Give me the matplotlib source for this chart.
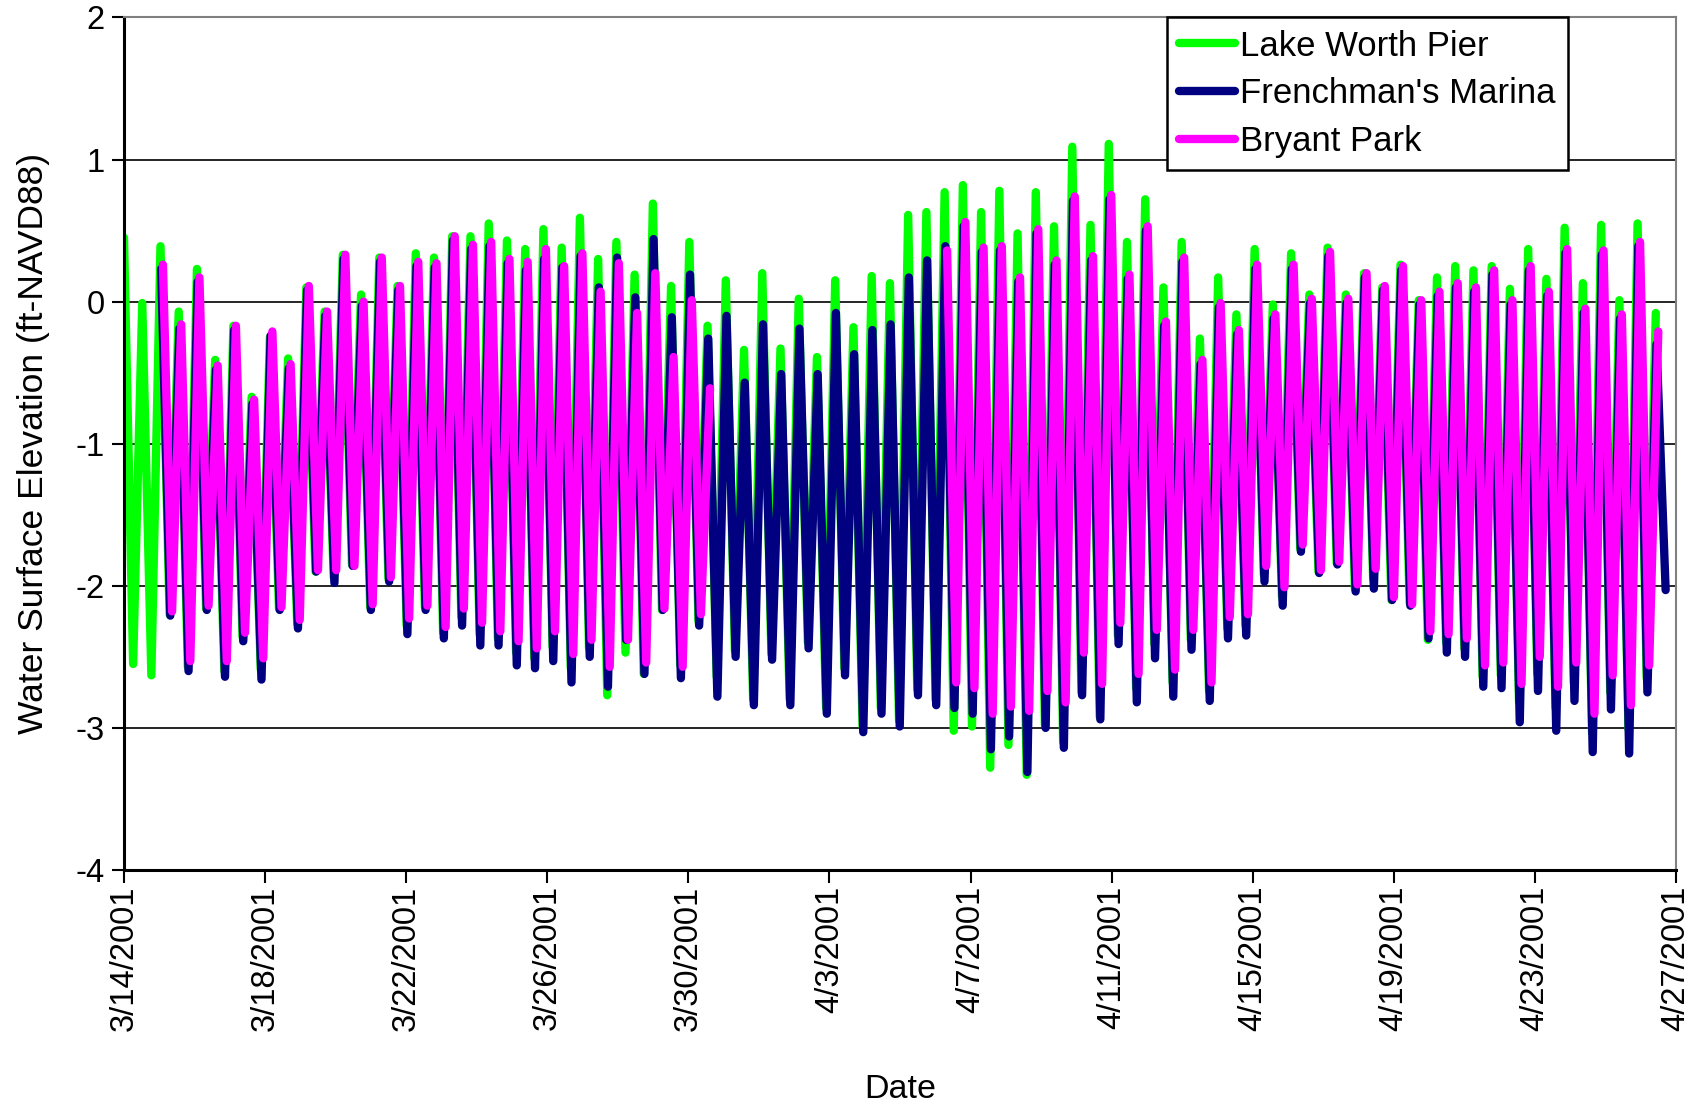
import datetime as dt

import matplotlib
matplotlib.use("Agg")
import matplotlib.pyplot as plt
import matplotlib.dates as mdates
import numpy as np

plt.rcParams['font.family'] = ['Liberation Sans', 'DejaVu Sans']
plt.rcParams['axes.unicode_minus'] = False

START = dt.datetime(2001, 3, 14)
TIDE_PERIOD = 0.517   # days between successive high waters

# high / low water levels (ft NAVD88), one value per tidal cycle
# Lake Worth Pier: highs from cycle 0, lows after cycles 0..83
LWP_HIGH = [0.45, -0.01, 0.39, -0.07, 0.23, -0.41, -0.17, -0.67, -0.25, -0.40, 0.10,
            -0.07, 0.33, 0.05, 0.31, 0.11, 0.34, 0.31, 0.46, 0.46, 0.55, 0.43,
            0.37, 0.51, 0.38, 0.59, 0.30, 0.42, 0.19, 0.69, 0.11, 0.42, -0.17,
            0.15, -0.34, 0.20, -0.33, 0.02, -0.39, 0.15, -0.18, 0.18, 0.13, 0.61,
            0.63, 0.77, 0.82, 0.63, 0.78, 0.48, 0.77, 0.53, 1.09, 0.54, 1.11,
            0.42, 0.72, 0.10, 0.42, -0.26, 0.17, -0.09, 0.37, -0.02, 0.34, 0.05,
            0.38, 0.05, 0.20, 0.10, 0.26, 0.01, 0.17, 0.25, 0.22, 0.25, 0.09,
            0.37, 0.16, 0.52, 0.13, 0.54, 0.01, 0.55, -0.08]
LWP_LOW = [-2.55, -2.63, -2.20, -2.57, -2.16, -2.60, -2.36, -2.59, -2.16, -2.27, -1.90,
           -1.94, -1.85, -2.15, -1.95, -2.28, -2.15, -2.33, -2.22, -2.34, -2.37, -2.47,
           -2.51, -2.43, -2.58, -2.44, -2.77, -2.47, -2.62, -2.17, -2.56, -2.25, -2.64,
           -2.46, -2.80, -2.48, -2.80, -2.40, -2.86, -2.58, -2.99, -2.86, -2.95, -2.73,
           -2.80, -3.02, -2.99, -3.28, -3.12, -3.33, -2.98, -3.10, -2.75, -2.92, -2.35,
           -2.72, -2.41, -2.68, -2.38, -2.74, -2.30, -2.28, -1.92, -2.08, -1.74, -1.90,
           -1.84, -2.02, -1.95, -2.10, -2.12, -2.38, -2.40, -2.44, -2.64, -2.63, -2.82,
           -2.62, -2.86, -2.68, -3.03, -2.75, -3.01, -2.65]

# Frenchman's Marina: highs from cycle 2, lows after cycles 2..84
FM_HIGH = [0.23, -0.19, 0.14, -0.48, -0.20, -0.72, -0.24, -0.47, 0.08,
           -0.10, 0.30, -0.03, 0.28, 0.08, 0.25, 0.24, 0.43, 0.37, 0.39, 0.27,
           0.22, 0.30, 0.24, 0.32, 0.10, 0.31, 0.03, 0.44, -0.11, 0.19, -0.26,
           -0.10, -0.57, -0.16, -0.51, -0.19, -0.51, -0.08, -0.37, -0.20, -0.16, 0.17,
           0.29, 0.39, 0.53, 0.35, 0.36, 0.14, 0.48, 0.26, 0.71, 0.29, 0.72,
           0.16, 0.50, -0.17, 0.28, -0.44, -0.04, -0.23, 0.23, -0.12, 0.23, -0.01,
           0.32, -0.01, 0.17, 0.08, 0.22, -0.02, 0.04, 0.10, 0.07, 0.19, -0.02,
           0.22, 0.04, 0.34, -0.08, 0.33, -0.12, 0.39, -0.30]
FM_LOW = [-2.21, -2.60, -2.17, -2.64, -2.39, -2.66, -2.17, -2.30, -1.90,
          -1.98, -1.86, -2.17, -1.97, -2.34, -2.17, -2.37, -2.28, -2.42, -2.42, -2.56,
          -2.58, -2.53, -2.68, -2.50, -2.71, -2.38, -2.62, -2.17, -2.65, -2.28, -2.78,
          -2.50, -2.84, -2.52, -2.84, -2.44, -2.90, -2.63, -3.03, -2.90, -2.99, -2.77,
          -2.84, -2.86, -2.90, -3.15, -3.06, -3.31, -3.00, -3.14, -2.77, -2.94, -2.41,
          -2.82, -2.51, -2.78, -2.45, -2.81, -2.37, -2.35, -1.97, -2.14, -1.76, -1.91,
          -1.85, -2.04, -2.02, -2.10, -2.14, -2.37, -2.47, -2.50, -2.71, -2.72, -2.96,
          -2.74, -3.02, -2.81, -3.17, -2.87, -3.18, -2.75, -2.03]

# Bryant Park: highs from cycle 2, lows after cycles 2..83, None = no record
BP_HIGH = [0.26, -0.16, 0.17, -0.45, -0.17, -0.69, -0.21, -0.44, 0.11,
           -0.07, 0.33, 0.00, 0.31, 0.11, 0.28, 0.27, 0.46, 0.40, 0.42, 0.30,
           0.28, 0.37, 0.25, 0.34, 0.07, 0.27, -0.08, 0.20, -0.39, 0.01, -0.61,
           None, None, None, None, None, None, None, None, None, None, None, None,
           0.36, 0.56, 0.38, 0.39, 0.17, 0.51, 0.29, 0.74, 0.32, 0.75,
           0.19, 0.53, -0.14, 0.31, -0.41, -0.01, -0.20, 0.26, -0.09, 0.26, 0.02,
           0.35, 0.02, 0.20, 0.11, 0.25, 0.01, 0.07, 0.13, 0.10, 0.22, 0.01,
           0.25, 0.07, 0.37, -0.05, 0.36, -0.09, 0.42, -0.21]
BP_LOW = [-2.18, -2.53, -2.14, -2.53, -2.33, -2.51, -2.15, -2.24, -1.89,
          -1.89, -1.86, -2.13, -1.94, -2.23, -2.14, -2.29, -2.16, -2.26, -2.32, -2.39,
          -2.44, -2.32, -2.48, -2.38, -2.57, -2.38, -2.54, -2.16, -2.57, -2.20,
          None, None, None, None, None, None, None, None, None, None, None, None, None,
          -2.68, -2.72, -2.90, -2.85, -2.88, -2.74, -2.82, -2.47, -2.69, -2.26,
          -2.62, -2.31, -2.59, -2.31, -2.68, -2.22, -2.20, -1.86, -2.01, -1.71, -1.89,
          -1.83, -1.99, -1.88, -2.08, -2.13, -2.32, -2.34, -2.37, -2.56, -2.54, -2.69,
          -2.50, -2.71, -2.54, -2.90, -2.63, -2.84, -2.56]


def tide_series(first_cycle, highs, lows, lag=0.0):
    """Interleave highs and lows into time (date num) / level arrays."""
    t, z = [], []
    for i in range(max(len(highs), len(lows))):
        k = first_cycle + i
        if i < len(highs):
            t.append(k * TIDE_PERIOD + lag)
            z.append(np.nan if highs[i] is None else highs[i])
        if i < len(lows):
            t.append((k + 0.5) * TIDE_PERIOD + lag)
            z.append(np.nan if lows[i] is None else lows[i])
    return mdates.date2num(START) + np.array(t), np.array(z)


fig = plt.figure(figsize=(17.01, 11.09), dpi=100)
ax = fig.add_axes([0.0729, 0.2155, 0.9124, 0.7688])

series = [
    ("Lake Worth Pier", "#00FF00", tide_series(0, LWP_HIGH, LWP_LOW, 0.0)),
    ("Frenchman's Marina", "#000080", tide_series(2, FM_HIGH, FM_LOW, 0.02)),
    ("Bryant Park", "#FF00FF", tide_series(2, BP_HIGH, BP_LOW, 0.07)),
]
for name, col, (x, y) in series:
    ax.plot(x, y, color=col, lw=6, label=name,
            solid_joinstyle='round', solid_capstyle='round')

x0 = mdates.date2num(START)
ax.set_xlim(x0, x0 + 44)
ax.set_ylim(-4, 2)
ax.set_yticks(np.arange(-4, 3, 1))
ax.set_yticklabels([str(v) for v in range(-4, 3)])

ticks = x0 + np.arange(0, 45, 4)
ax.set_xticks(ticks)
labels = []
for tk in ticks:
    d = mdates.num2date(tk)
    labels.append(f"{d.month}/{d.day}/{d.year}")
ax.set_xticklabels(labels, rotation=90)

ax.set_axisbelow(True)
ax.yaxis.grid(True, color='black', lw=1.2)
ax.tick_params(axis='both', labelsize=23.5, length=9, width=1.5, direction='out',
               colors='black')
ax.tick_params(axis='x', pad=2)
ax.tick_params(axis='y', pad=5)
for side in ('left', 'bottom'):
    ax.spines[side].set_color('black')
    ax.spines[side].set_linewidth(2.2)
for side in ('top', 'right'):
    ax.spines[side].set_color('#808080')
    ax.spines[side].set_linewidth(1.5)

ax.set_xlabel("Date", fontsize=24.5, labelpad=31)
ax.set_ylabel("Water Surface Elevation (ft-NAVD88)", fontsize=25.5, labelpad=18)

leg = ax.legend(loc='upper left', bbox_to_anchor=(0.672, 1.0), borderaxespad=0,
                fontsize=25, frameon=True, fancybox=False, handlelength=1.6,
                handletextpad=0.15, labelspacing=0.42, borderpad=0.35)
leg.get_frame().set_edgecolor('black')
leg.get_frame().set_linewidth(1.8)
leg.get_frame().set_alpha(1)

fig.savefig("out.png", dpi=100, facecolor='white')
